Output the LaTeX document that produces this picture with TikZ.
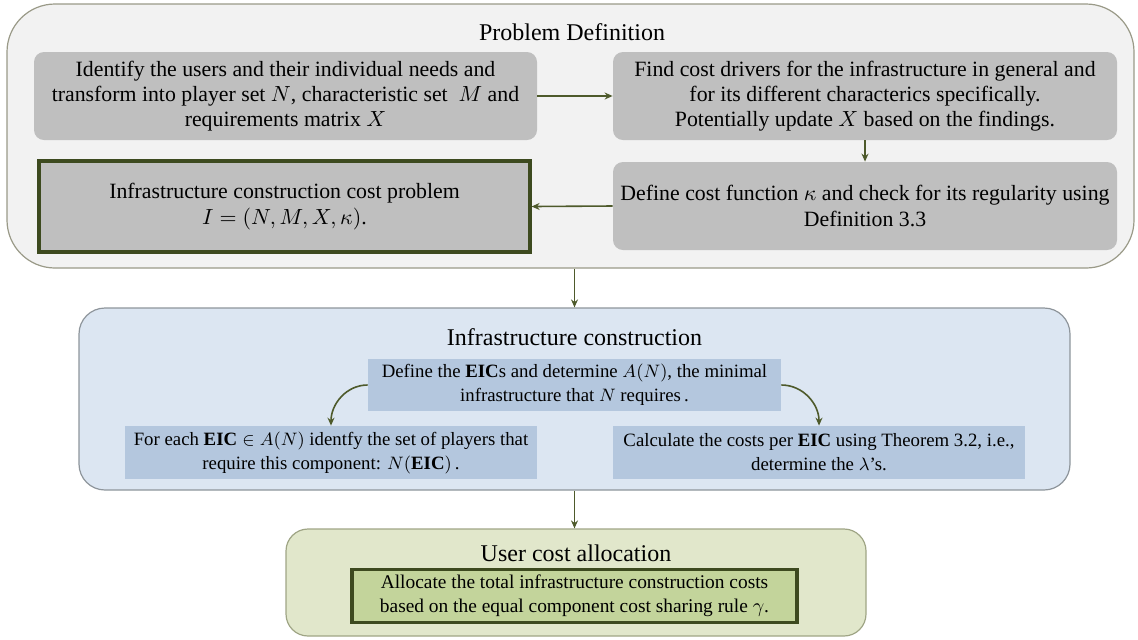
\documentclass[tikz,border=0pt]{standalone}
\usepackage{fontspec}
\setmainfont{Liberation Serif}
\usetikzlibrary{arrows.meta}

\begin{document}
\begin{tikzpicture}[x=0.5pt, y=-0.5pt,
    stage/.style={draw=frameBorder, line width=0.6pt, rounded corners=#1},
    stagetitle/.style={font=\fontsize{12}{14}\selectfont},
    stepbox/.style={fill=stepFill, rounded corners=5pt, align=center, inner sep=0pt,
        font=\fontsize{10.9}{12.6}\selectfont},
    resultbox/.style={draw=resultBorder, line width=1.6pt, align=center, inner sep=0pt},
    eicbox/.style={fill=eicFill, align=center, inner sep=0pt,
        font=\fontsize{9.4}{12}\selectfont},
    flow/.style={draw=lineColour, line width=0.8pt, -{Stealth[length=4pt, width=3.5pt]}}]
    % Define colours
    \definecolor{frameBorder}{HTML}{9A9A88}
    \definecolor{defFill}{HTML}{F2F2F2}
    \definecolor{stepFill}{HTML}{BFBFBF}
    \definecolor{resultBorder}{HTML}{3D4A1F}
    \definecolor{lineColour}{HTML}{4E5A2B}
    \definecolor{eicFrameFill}{HTML}{DCE6F2}
    \definecolor{eicFrameBorder}{HTML}{8E959B}
    \definecolor{eicFill}{HTML}{B4C7DE}
    \definecolor{userFrameFill}{HTML}{E1E7CB}
    \definecolor{userFrameBorder}{HTML}{9FA585}
    \definecolor{allocFill}{HTML}{C3D49B}

    % Fix the page to the reference size
    \useasboundingbox (0,0) rectangle (1138,639);

    % Draw the three stage frames
    \node[stage=24pt, fill=defFill, minimum width=563.5pt, minimum height=132pt] (defFrame) at (570.5,136) {};
    \node[stage=13pt, draw=eicFrameBorder, fill=eicFrameFill, minimum width=495.5pt, minimum height=91pt] (eicFrame) at (574.5,399) {};
    \node[stage=11pt, draw=userFrameBorder, fill=userFrameFill, minimum width=290pt, minimum height=53.5pt] (userFrame) at (576,582.5) {};

    % Stage titles
    \node[stagetitle] (defTitle) at (572,32) {Problem Definition};
    \node[stagetitle] (eicTitle) at (574.5,337) {Infrastructure construction};
    \node[stagetitle] (userTitle) at (576,553) {User cost allocation};

    % Problem definition steps
    \node[stepbox, minimum width=251.5pt, minimum height=44pt] (identifyBox) at (285.5,96)
        {Identify the users and their individual needs and\\
         transform into player set $N$, characteristic set~ $M$ and\\
         requirements matrix $X$};
    \node[stepbox, minimum width=252pt, minimum height=44pt] (driverBox) at (865,96)
        {Find cost drivers for the infrastructure in general and\\
         for its different characterics specifically.\\
         Potentially update $X$ based on the findings.};
    \node[stepbox, minimum width=252pt, minimum height=44pt] (costFnBox) at (865,206)
        {Define cost function $\kappa$ and check for its regularity using\\
         Definition 3.3};
    \node[resultbox, fill=stepFill, minimum width=245.5pt, minimum height=45.5pt,
        font=\fontsize{10.9}{12.6}\selectfont] (problemBox) at (284.5,206.5)
        {Infrastructure construction cost problem\\
         $I=(N,M,X,\kappa)$.};

    % Infrastructure construction steps
    \node[eicbox, minimum width=206.5pt, minimum height=26pt] (defineEic) at (574.5,385)
        {Define the \textbf{EIC}s and determine $A(N)$, the minimal\\
         infrastructure that $N$ requires\,.};
    \node[eicbox, minimum width=206pt, minimum height=26.5pt] (eachEic) at (331,452.5)
        {For each $\mathbf{EIC}\in A(N)$ identfy the set of players that\\
         require this component: $N(\mathbf{EIC})$\,.};
    \node[eicbox, minimum width=206pt, minimum height=26.5pt] (costEic) at (819,452.5)
        {Calculate the costs per \textbf{EIC} using Theorem 3.2, i.e.,\\
         determine the $\lambda$'s.};

    % User cost allocation step
    \node[resultbox, fill=allocFill, minimum width=222.5pt, minimum height=26.5pt,
        font=\fontsize{9.7}{12}\selectfont] (allocBox) at (574.5,596)
        {Allocate the total infrastructure construction costs\\
         based on the equal component cost sharing rule $\gamma$.};

    % Draw the arrows
    \draw[flow] (identifyBox.east) -- (driverBox.west);
    \draw[flow] (driverBox.south) -- (costFnBox.north);
    \draw[flow] (costFnBox.west) -- (problemBox.east);
    \draw[flow] (eicFrame.north |- defFrame.south) -- (eicFrame.north);
    \draw[flow] (defineEic.west) to[out=180, in=90] (eachEic.north);
    \draw[flow] (defineEic.east) to[out=0, in=90] (costEic.north);
    \draw[flow] (eicFrame.south) -- (eicFrame.south |- userFrame.north);

\end{tikzpicture}
\end{document}
